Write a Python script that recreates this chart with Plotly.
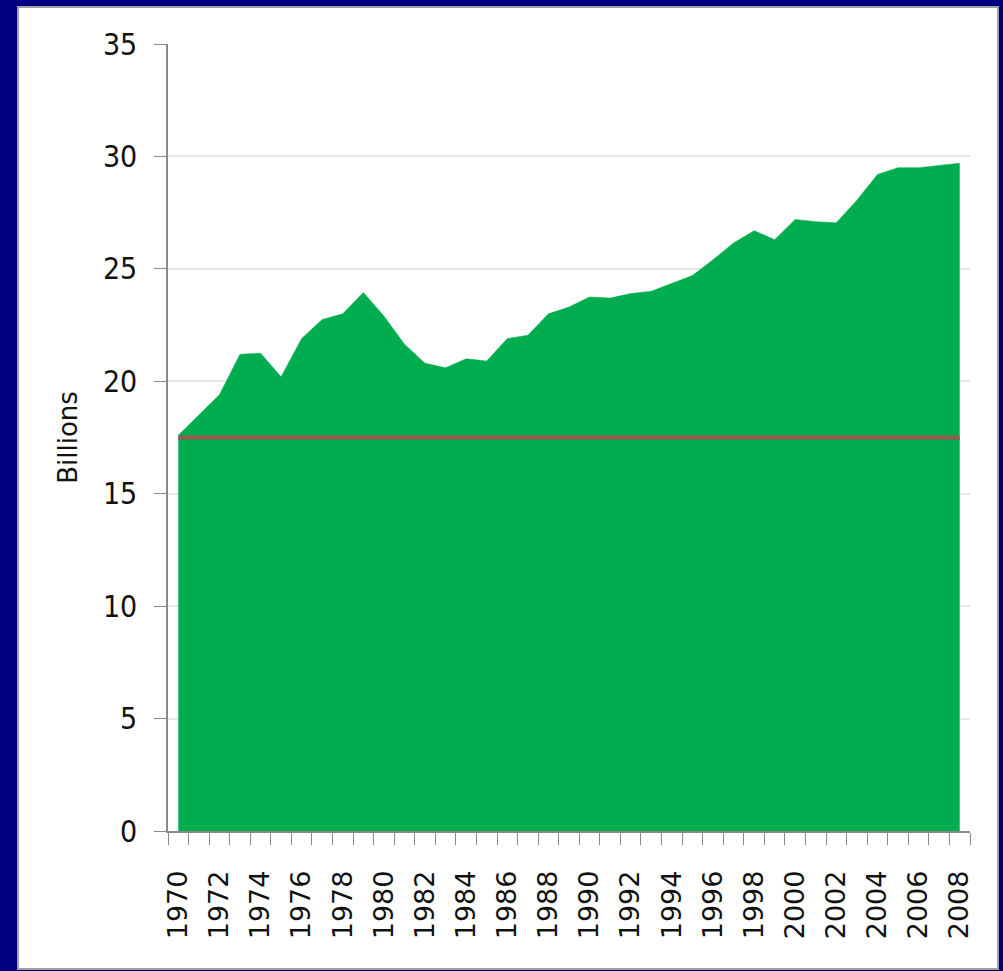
import plotly.graph_objects as go

# Annual totals, in billions
years = list(range(1970, 2009))
values = [17.6, 18.5, 19.4, 21.2, 21.25, 20.2, 21.9, 22.75, 23.0, 23.95,
          22.9, 21.65, 20.8, 20.6, 21.0, 20.9, 21.9, 22.05, 23.0, 23.3,
          23.75, 23.7, 23.9, 24.0, 24.35, 24.7, 25.4, 26.15, 26.7, 26.3,
          27.2, 27.1, 27.05, 28.05, 29.2, 29.5, 29.5, 29.6, 29.7]
baseline = 17.5

label_years = [y for y in years if y % 2 == 0]
label_text = [str(y) for y in label_years]
y_ticks = [0, 5, 10, 15, 20, 25, 30, 35]

GREEN = "#00AD4E"
BROWN = "#8E5E4F"
NAVY = "#000080"
AXIS_GRAY = "#8a8a8a"

fig = go.Figure()

fig.add_trace(go.Scatter(
    x=years, y=values, mode="lines", fill="tozeroy",
    fillcolor=GREEN, line=dict(color=GREEN, width=0.5),
    hoverinfo="x+y", showlegend=False,
))

fig.add_trace(go.Scatter(
    x=[years[0], years[-1]], y=[baseline, baseline], mode="lines",
    line=dict(color=BROWN, width=4.5), showlegend=False,
))

W, H = 1003, 971
ml, mr, mt, mb = 168, 33, 44, 140
pw, ph = W - ml - mr, H - mt - mb


def px_x(p):
    return (p - ml) / pw


def px_y(p):
    return (H - mb - p) / ph


# white slide panel with a thin grey edge on the navy background
fig.add_shape(type="rect", xref="paper", yref="paper",
              x0=px_x(18), x1=px_x(998), y0=px_y(969), y1=px_y(7),
              fillcolor="white", line=dict(color="#a0a0a0", width=2),
              layer="below")

fig.update_layout(
    width=W, height=H,
    margin=dict(l=ml, r=mr, t=mt, b=mb),
    paper_bgcolor=NAVY,
    plot_bgcolor="rgba(0,0,0,0)",
    xaxis=dict(
        range=[years[0] - 0.5, years[-1] + 0.5],
        tickmode="array", tickvals=label_years, ticktext=label_text,
        tickangle=-90, ticks="", ticklabelstandoff=27,
        tickfont=dict(family="DejaVu Sans", size=27, color="#111111"),
        showgrid=False, zeroline=False,
        showline=True, linecolor=AXIS_GRAY, linewidth=1.5,
        minor=dict(tickmode="linear", tick0=years[0] - 0.5, dtick=1,
                   ticks="outside", ticklen=12, tickcolor=AXIS_GRAY,
                   tickwidth=1.2, showgrid=False),
    ),
    yaxis=dict(
        range=[0, 35], tickmode="array", tickvals=y_ticks,
        ticks="outside", ticklen=12, tickcolor=AXIS_GRAY, tickwidth=1.2,
        ticklabelstandoff=11,
        tickfont=dict(family="DejaVu Sans Condensed, Lato, sans-serif",
                      size=30, color="#111111"),
        showgrid=True, gridcolor="#e6e6e6", gridwidth=1.5,
        zeroline=False, showline=True, linecolor=AXIS_GRAY, linewidth=1.5,
        title=dict(text="Billions", standoff=18,
                   font=dict(family="DejaVu Sans", size=26, color="#111111")),
    ),
)

fig.write_html("out.html")
